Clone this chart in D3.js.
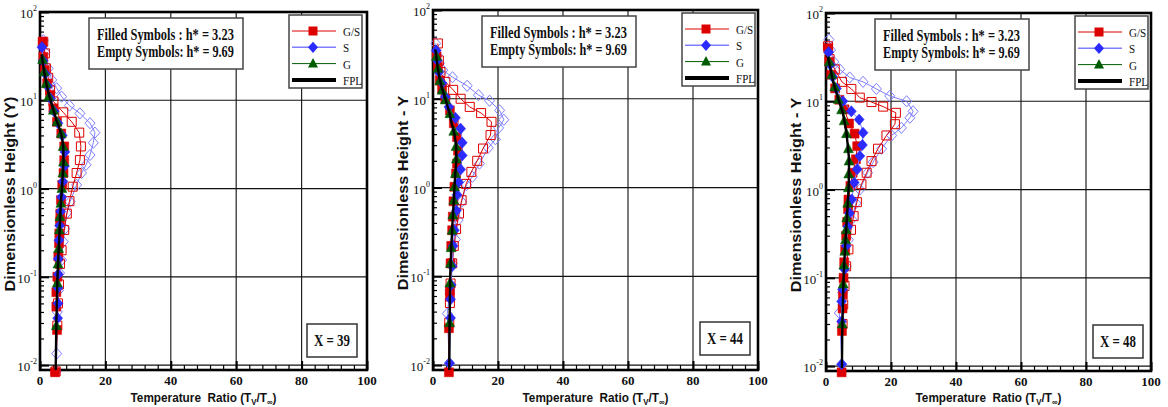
<!DOCTYPE html>
<html>
<head>
<meta charset="utf-8">
<script src="https://cdn.jsdelivr.net/npm/d3@7"></script>
<style>
  body { margin: 0; background: #fff; }
  svg { display: block; }
</style>
</head>
<body>
<div id="chart"></div>
<script>
// Axis ticks and labels
const xTicks = [0, 20, 40, 60, 80, 100];
const yDecades = [-2, -1, 0, 1, 2];
const legendLabels = ['G/S', 'S', 'G', 'FPL'];
const noteLines = ['Filled Symbols : h* = 3.23', 'Empty Symbols: h* = 9.69'];

// Profiles as [T ratio, Y] pairs
// X = 39
const fpl39 = [[4.8,0.0088],[5.0,0.03],[5.35,0.1],[5.7,0.2],[6.1,0.4],[6.4,0.7],[6.7,1.0],[7.0,1.5],[7.2,2.0],[7.1,3.0],[6.6,4.0],[5.8,5.0],[5.0,6.0],[4.0,8.0],[2.9,11],[2.0,15],[1.4,20],[0.9,26],[0.5,33]];
const gFilled39 = [[5.0,0.028],[5.3,0.085],[5.5,0.14],[5.7,0.21],[5.9,0.34],[6.1,0.48],[6.4,0.68],[6.7,1.0],[7.0,1.5],[7.2,2.0],[7.1,3.0],[6.5,4.2],[5.2,5.7],[4.1,7.7],[2.7,11],[1.9,15.5],[1.3,21],[0.8,29]];
const gsFilled39 = [[4.6,0.0083],[5.2,0.025],[5.0,0.046],[5.0,0.067],[5.3,0.1],[5.6,0.17],[5.8,0.24],[5.9,0.31],[6.1,0.42],[6.2,0.52],[6.4,0.74],[6.8,1.1],[7.2,1.5],[7.4,2.1],[7.4,3.0],[6.5,4.2],[5.2,5.7],[4.1,8.1],[3.1,11.5],[2.2,15.5],[1.5,22],[1.0,31],[0.8,46]];
const sFilled39 = [[5.4,0.034],[5.5,0.05],[5.5,0.075],[5.6,0.107],[5.6,0.16],[5.8,0.26],[6.0,0.38],[6.3,0.55],[6.6,0.8],[7.0,1.2],[7.5,1.8],[7.6,2.6],[6.8,4.0],[5.5,5.5],[4.3,7.5],[3.2,10.5],[2.3,14.5],[1.6,20],[1.0,28],[0.6,40]];
const gsEmpty39 = [[4.8,0.0085],[5.3,0.028],[5.5,0.05],[5.8,0.082],[6.1,0.14],[6.6,0.2],[7.4,0.34],[8.2,0.52],[9.0,0.72],[10.0,1.05],[11.2,1.5],[12.2,2.1],[12.5,3.0],[12.0,4.3],[9.7,5.7],[7.1,7.3],[4.1,9.7],[3.1,13],[2.5,18],[1.8,23],[1.5,34],[1.0,46]];
const sEmpty39 = [[5.0,0.0085],[5.1,0.0135],[5.3,0.04],[5.6,0.07],[6.0,0.11],[6.6,0.155],[7.1,0.25],[7.6,0.35],[8.2,0.53],[9.2,0.71],[11.2,1.1],[12.7,1.5],[14.1,1.86],[15.3,2.4],[16.3,3.3],[16.8,4.3],[15.3,5.5],[12.2,7.1],[9.0,8.7],[6.6,11],[5.1,13.7],[3.6,17],[2.5,23],[1.5,35],[1.0,48]];

// X = 44
const fpl44 = [[5.0,0.0088],[5.1,0.03],[5.3,0.1],[5.6,0.2],[6.0,0.4],[6.4,0.7],[6.6,1.0],[6.9,1.5],[7.2,2.0],[7.1,3.0],[6.6,4.0],[5.9,5.0],[5.0,7.0],[3.8,10],[2.8,13],[2.0,17],[1.4,23],[1.0,30],[0.7,36]];
const gFilled44 = [[5.1,0.03],[5.2,0.084],[5.4,0.14],[5.6,0.21],[5.9,0.33],[6.1,0.49],[6.4,0.72],[6.6,1.02],[6.9,1.44],[7.2,2.1],[7.1,2.9],[6.4,4.3],[5.2,6.8],[3.8,9.7],[2.8,12.5],[2.1,16],[1.5,22],[1.1,30]];
const gsFilled44 = [[4.9,0.0083],[4.9,0.026],[5.2,0.059],[5.2,0.069],[5.4,0.14],[5.6,0.22],[5.9,0.33],[6.1,0.47],[6.3,0.7],[6.6,1.02],[7.1,1.44],[7.4,1.86],[7.7,2.6],[7.4,3.7],[6.4,5.3],[5.2,7.4],[3.8,10],[2.8,13],[2.1,16],[1.5,23],[1.1,30]];
const sFilled44 = [[5.1,0.0105],[5.4,0.034],[5.4,0.055],[5.6,0.08],[5.9,0.13],[6.2,0.22],[6.6,0.33],[7.2,0.55],[7.4,0.83],[7.9,1.15],[8.5,1.6],[9.0,2.3],[9.0,3.2],[8.5,4.6],[6.9,6.1],[4.9,8.1],[3.8,10.5],[2.8,15],[1.8,20],[1.3,27],[1.0,35]];
const gsEmpty44 = [[5.0,0.03],[5.2,0.05],[5.4,0.083],[5.9,0.14],[6.4,0.22],[7.1,0.34],[8.0,0.51],[8.8,0.72],[10.2,1.1],[11.8,1.5],[13.6,2.0],[15.4,2.75],[17.7,3.9],[18.0,5.5],[14.8,6.9],[11.3,8.1],[8.5,10],[6.2,12.6],[3.8,15.5],[2.3,20],[1.8,27],[1.5,42]];
const sEmpty44 = [[5.0,0.0105],[4.4,0.038],[5.2,0.07],[5.9,0.14],[6.9,0.26],[7.7,0.43],[8.8,0.69],[10.3,1.07],[12.1,1.32],[14.3,1.86],[17.0,2.8],[19.2,3.5],[20.2,4.7],[21.8,5.8],[20.5,7.4],[17.4,9.5],[14.0,11],[10.5,14],[6.0,17.5],[3.0,21],[2.0,25],[1.3,31],[0.8,42]];

// X = 48
const fpl48 = [[4.9,0.0095],[5.0,0.025],[5.2,0.05],[5.4,0.1],[5.8,0.2],[6.3,0.4],[6.7,0.7],[7.0,1.1],[7.1,2.2],[6.3,4.4],[5.2,7.4],[4.0,10],[2.2,16.6],[1.3,24],[0.6,32]];
const gFilled48 = [[5.0,0.03],[5.3,0.085],[5.5,0.14],[5.8,0.2],[6.0,0.27],[6.2,0.35],[6.4,0.48],[6.7,0.7],[6.9,1.05],[7.0,1.5],[7.1,2.1],[6.9,2.9],[6.3,4.3],[5.6,6.0],[4.8,8.0],[3.8,10.5],[2.7,14.5],[1.8,20],[1.0,28]];
const gsFilled48 = [[4.8,0.0085],[4.9,0.025],[5.1,0.045],[5.2,0.065],[5.4,0.1],[5.6,0.15],[5.9,0.21],[6.2,0.3],[6.5,0.43],[6.8,0.6],[6.9,0.77],[7.5,1.1],[8.2,1.55],[9.2,2.2],[9.6,3.1],[8.8,4.3],[7.1,5.6],[5.7,8.1],[4.1,10.4],[2.8,14],[1.6,20],[1.0,28],[0.7,40]];
const sFilled48 = [[4.8,0.0105],[4.8,0.032],[4.8,0.054],[5.1,0.074],[5.7,0.125],[6.2,0.23],[6.7,0.38],[7.2,0.54],[7.9,0.77],[8.7,1.2],[9.6,1.7],[10.4,2.4],[11.2,3.2],[11.4,4.4],[10.2,6.2],[7.8,7.7],[5.2,10],[3.2,14],[2.0,19],[1.3,26],[0.8,36]];
const gsEmpty48 = [[5.1,0.03],[5.3,0.05],[5.7,0.081],[6.2,0.135],[6.9,0.21],[7.7,0.35],[8.5,0.5],[9.5,0.72],[10.9,1.15],[12.5,1.55],[14.0,2.1],[16.0,2.9],[18.6,4.1],[21.2,5.5],[21.5,7.4],[17.6,8.7],[14.0,9.8],[10.4,11],[7.8,13.8],[4.9,16.6],[2.7,23],[1.1,30],[0.6,42]];
const sEmpty48 = [[4.9,0.0105],[4.1,0.04],[5.1,0.068],[6.2,0.135],[6.9,0.27],[7.9,0.46],[9.2,0.7],[10.4,1.0],[12.8,1.55],[14.5,2.05],[17.1,2.9],[20.2,4.1],[23.2,5.0],[25.8,6.5],[26.8,7.7],[24.8,10],[19.6,11.5],[15.5,13.8],[11.4,16.6],[7.3,18.6],[4.2,23],[2.4,28],[1.4,38],[0.9,50]];

const panels = [
  { label: 'X = 39', yTitle: 'Dimensionless Height (Y)', left: 40, top: 12, width: 327, bottom: 370,
    data: { sEmpty: sEmpty39, gsEmpty: gsEmpty39, gsFilled: gsFilled39, sFilled: sFilled39, gFilled: gFilled39, fpl: fpl39 } },
  { label: 'X = 44', yTitle: 'Dimensionless Height - Y', left: 433, top: 10, width: 325, bottom: 370,
    data: { sEmpty: sEmpty44, gsEmpty: gsEmpty44, gsFilled: gsFilled44, sFilled: sFilled44, gFilled: gFilled44, fpl: fpl44 } },
  { label: 'X = 48', yTitle: 'Dimensionless Height - Y', left: 826, top: 13, width: 325, bottom: 371,
    data: { sEmpty: sEmpty48, gsEmpty: gsEmpty48, gsFilled: gsFilled48, sFilled: sFilled48, gFilled: gFilled48, fpl: fpl48 } }
];

const RED = '#dd0000', BLUE = '#2b2bff', LBLUE = '#7e7eff', GREEN = '#005c00';
const shapes = {
  square: 'M-4.5,-4.5h9v9h-9z',
  diamond: 'M0,-5.6L5,0L0,5.6L-5,0Z',
  triangle: 'M0,-5.5L5,4L-5,4Z'
};
// draw order: empty first, filled on top, FPL last
const seriesStyle = [
  { key: 'sEmpty', stroke: LBLUE, line: LBLUE, shape: 'diamond', filled: false },
  { key: 'gsEmpty', stroke: RED, line: RED, shape: 'square', filled: false },
  { key: 'gsFilled', stroke: RED, line: RED, shape: 'square', filled: true },
  { key: 'sFilled', stroke: BLUE, line: LBLUE, shape: 'diamond', filled: true },
  { key: 'gFilled', stroke: GREEN, line: GREEN, shape: 'triangle', filled: true }
];
const legendStyle = [
  { line: RED, fill: RED, shape: 'square', width: 1 },
  { line: LBLUE, fill: BLUE, shape: 'diamond', width: 1.5 },
  { line: GREEN, fill: GREEN, shape: 'triangle', width: 1 },
  { line: '#000', fill: null, shape: null, width: 4 }
];

const SERIF = "'Liberation Serif', 'Times New Roman', serif";
const SANS = "'Liberation Sans', Arial, sans-serif";

const svg = d3.select('#chart').append('svg')
  .attr('width', 1168)
  .attr('height', 407);
svg.append('rect').attr('width', 1168).attr('height', 407).attr('fill', '#fff');

// squeeze a text horizontally to a target width
function fitWidth(textSel, w) {
  const bw = textSel.node().getComputedTextLength();
  textSel.attr('transform', `scale(${w / bw},1)`);
}

panels.forEach(drawPanel);

function drawPanel(p) {
  const x = d3.scaleLinear().domain([0, 100]).range([p.left, p.left + p.width]);
  const y = d3.scaleLog().domain([0.0088, 100]).range([p.bottom, p.top]);
  const g = svg.append('g');

  // grid lines
  g.append('g').selectAll('line')
    .data(xTicks.slice(1, -1))
    .join('line')
    .attr('x1', d => x(d)).attr('x2', d => x(d))
    .attr('y1', p.top).attr('y2', p.bottom)
    .attr('stroke', '#222').attr('stroke-width', 1.2);
  g.append('g').selectAll('line')
    .data(yDecades.slice(0, -1))
    .join('line')
    .attr('x1', p.left).attr('x2', p.left + p.width)
    .attr('y1', d => y(Math.pow(10, d))).attr('y2', d => y(Math.pow(10, d)))
    .attr('stroke', '#111').attr('stroke-width', 1.2);

  // ticks on bottom and left axes
  const minorX = d3.range(0, 101, 4).filter(v => v % 20 !== 0);
  const minorY = [];
  [-3, -2, -1, 0, 1].forEach(e => {
    for (let k = 2; k <= 9; k++) {
      const v = k * Math.pow(10, e);
      if (v > 0.0088 && v < 100) minorY.push(v);
    }
  });
  const tickStyle = sel => {
    sel.select('.domain').remove();
    sel.selectAll('line').attr('stroke', '#000').attr('stroke-width', 1.2);
  };
  g.append('g').attr('transform', `translate(0,${p.bottom})`)
    .call(d3.axisBottom(x).tickValues(minorX).tickSize(-5).tickFormat(''))
    .call(tickStyle);
  g.append('g').attr('transform', `translate(0,${p.bottom})`)
    .call(d3.axisBottom(x).tickValues(xTicks).tickSize(-9).tickFormat(''))
    .call(tickStyle)
    .selectAll('line').attr('stroke-width', 2);
  g.append('g').attr('transform', `translate(${p.left},0)`)
    .call(d3.axisLeft(y).tickValues(minorY).tickSize(-4).tickFormat(''))
    .call(tickStyle);
  g.append('g').attr('transform', `translate(${p.left},0)`)
    .call(d3.axisLeft(y).tickValues(yDecades.map(d => Math.pow(10, d))).tickSize(-9).tickFormat(''))
    .call(tickStyle)
    .selectAll('line').attr('stroke-width', 2);

  // frame
  g.append('rect')
    .attr('x', p.left).attr('y', p.top)
    .attr('width', p.width).attr('height', p.bottom - p.top)
    .attr('fill', 'none').attr('stroke', '#000').attr('stroke-width', 2.6);

  // tick labels
  g.append('g').selectAll('text')
    .data(xTicks)
    .join('text')
    .attr('x', d => x(d)).attr('y', p.bottom + 15)
    .attr('text-anchor', 'middle')
    .attr('font-family', SERIF).attr('font-size', 13).attr('font-weight', 'bold')
    .attr('fill', '#111')
    .text(d => d);
  const yl = g.append('g').selectAll('text')
    .data(yDecades)
    .join('text')
    .attr('x', p.left - 3).attr('y', d => y(Math.pow(10, d)) + 6)
    .attr('text-anchor', 'end')
    .attr('font-family', SERIF).attr('font-size', 13)
    .attr('fill', '#111');
  yl.append('tspan').text('10');
  yl.append('tspan').attr('dy', -7).attr('font-size', 8).text(d => d);

  // axis titles
  const xt = g.append('g')
    .attr('transform', `translate(${p.left + p.width / 2},402)`)
    .append('text')
    .attr('text-anchor', 'middle')
    .attr('font-family', SANS).attr('font-size', 13.5).attr('font-weight', 'bold')
    .attr('fill', '#111');
  xt.append('tspan').text('Temperature\u00a0\u00a0Ratio (T');
  xt.append('tspan').attr('dy', 3).attr('font-size', 9).text('V');
  xt.append('tspan').attr('dy', -3).text('/T');
  xt.append('tspan').attr('dy', 3).attr('font-size', 9).text('\u221e');
  xt.append('tspan').attr('dy', -3).text(')');
  fitWidth(xt, 146);

  const yt = g.append('g')
    .attr('transform', `translate(${p.left - 25},${(p.top + p.bottom) / 2 + 3}) rotate(-90)`)
    .append('text')
    .attr('text-anchor', 'middle')
    .attr('font-family', SANS).attr('font-size', 15).attr('font-weight', 'bold')
    .attr('fill', '#111')
    .text(p.yTitle);
  fitWidth(yt, 195);

  // data series
  const line = d3.line().x(d => x(d[0])).y(d => y(d[1]));
  seriesStyle.forEach(s => {
    const pts = p.data[s.key];
    g.append('path')
      .attr('d', line(pts))
      .attr('fill', 'none')
      .attr('stroke', s.line)
      .attr('stroke-width', 1);
    g.append('g').selectAll('path')
      .data(pts)
      .join('path')
      .attr('transform', d => `translate(${x(d[0])},${y(d[1])})`)
      .attr('d', shapes[s.shape])
      .attr('fill', s.filled ? s.stroke : 'none')
      .attr('stroke', s.stroke)
      .attr('stroke-width', s.filled ? 0.5 : 1);
  });
  g.append('path')
    .attr('d', line(p.data.fpl))
    .attr('fill', 'none')
    .attr('stroke', '#000')
    .attr('stroke-width', 2.4);

  // note box
  const nb = g.append('g').attr('transform', `translate(${p.left + 49},${p.top + 6})`);
  nb.append('rect').attr('width', 154).attr('height', 51)
    .attr('fill', '#fff').attr('stroke', '#444').attr('stroke-width', 1.5);
  noteLines.forEach((t, i) => {
    const tx = nb.append('g').attr('transform', `translate(8,${22 + i * 17})`)
      .append('text')
      .attr('font-family', SERIF).attr('font-size', 16).attr('font-weight', 'bold')
      .attr('fill', '#111')
      .text(t);
    fitWidth(tx, 137);
  });

  // legend
  const lg = g.append('g').attr('transform', `translate(${p.left + 249},${p.top + 3})`);
  lg.append('rect').attr('width', 73).attr('height', 73)
    .attr('fill', '#fff').attr('stroke', '#444').attr('stroke-width', 1.5);
  legendLabels.forEach((lab, i) => {
    const ls = legendStyle[i];
    const row = lg.append('g').attr('transform', `translate(0,${16 + i * 16.3})`);
    row.append('line').attr('x1', 3).attr('x2', 47)
      .attr('stroke', ls.line).attr('stroke-width', ls.width);
    if (ls.shape) {
      row.append('path').attr('transform', 'translate(24,0)')
        .attr('d', shapes[ls.shape]).attr('fill', ls.fill);
    }
    const tx = row.append('g').attr('transform', 'translate(54,5)')
      .append('text')
      .attr('font-family', SERIF).attr('font-size', 13)
      .attr('fill', '#111')
      .text(lab);
    fitWidth(tx, tx.node().getComputedTextLength() * 0.85);
  });

  // station label
  const sb = g.append('g').attr('transform', `translate(${p.left + 267},${p.top + 312})`);
  sb.append('rect').attr('width', 50).attr('height', 33)
    .attr('fill', '#fff').attr('stroke', '#333').attr('stroke-width', 1.5);
  const st = sb.append('g').attr('transform', 'translate(25,22)')
    .append('text')
    .attr('text-anchor', 'middle')
    .attr('font-family', SERIF).attr('font-size', 17).attr('font-weight', 'bold')
    .attr('fill', '#111')
    .text(p.label);
  fitWidth(st, 36);
}
</script>
</body>
</html>
